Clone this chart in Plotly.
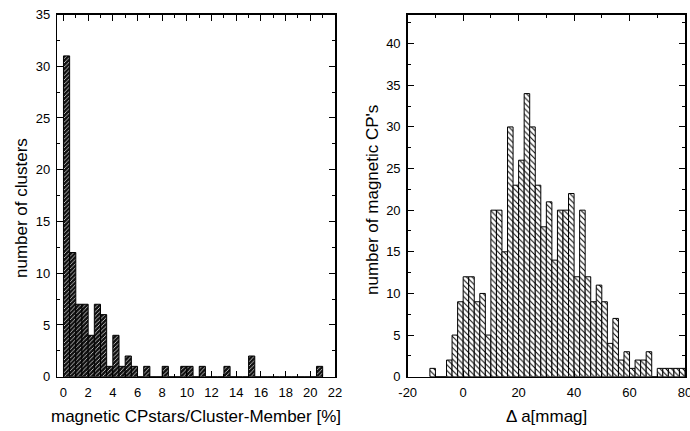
import numpy as np
import plotly.graph_objects as go

# Left histogram: bins of 0.5 % starting at 0
left_bin_start = 0.0
left_bin_width = 0.5
left_counts = [31, 12, 7, 7, 4, 7, 6, 1, 4, 1, 2, 1, 0, 1, 0, 0, 1, 0, 0, 1,
               1, 0, 1, 0, 0, 0, 1, 0, 0, 0, 2, 0, 0, 0, 0, 0, 0, 0, 0, 0,
               0, 1]
left_xticks = [0, 2, 4, 6, 8, 10, 12, 14, 16, 18, 20, 22]

# Right histogram: bins of 2 mmag starting at -12
right_bin_start = -12.0
right_bin_width = 2.0
right_counts = [1, 0, 0, 2, 5, 9, 12, 12, 9, 10, 5, 20, 20, 15, 30, 23, 26, 34,
                30, 23, 18, 21, 14, 20, 20, 22, 12, 20, 12, 9, 11, 9, 4, 7, 2,
                3, 1, 2, 2, 3, 0, 1, 1, 1, 1, 1]
right_xticks = [-20, 0, 20, 40, 60, 80]
right_xticklabels = ["-20", "0", "20", "40", "60", "80"]

left_x = left_bin_start + left_bin_width * (np.arange(len(left_counts)) + 0.5)
right_x = right_bin_start + right_bin_width * (np.arange(len(right_counts)) + 0.5)

FONT = "Liberation Sans, Arial, sans-serif"

fig = go.Figure()
fig.add_trace(go.Bar(
    x=left_x, y=left_counts, width=left_bin_width, xaxis="x", yaxis="y",
    marker=dict(color="#111111",
                line=dict(color="black", width=1),
                pattern=dict(shape="/", fillmode="replace", bgcolor="#111111",
                             fgcolor="#d0d0d0", size=3, solidity=0.28)),
    showlegend=False, hoverinfo="skip"))
fig.add_trace(go.Bar(
    x=right_x, y=right_counts, width=right_bin_width, xaxis="x2", yaxis="y2",
    marker=dict(color="white",
                line=dict(color="black", width=1),
                pattern=dict(shape="\\", fillmode="replace", bgcolor="white",
                             fgcolor="black", size=4, solidity=0.25)),
    showlegend=False, hoverinfo="skip"))

W, H = 690, 431
ydom = [(H - 376.7) / H, (H - 14.5) / H]

axis_common = dict(showline=True, linecolor="black", linewidth=1.5, mirror="ticks",
                   ticks="inside", ticklen=6, tickwidth=1, tickcolor="black",
                   showgrid=False, zeroline=False, automargin=False,
                   ticklabeloverflow="allow",
                   tickfont=dict(family=FONT, size=13, color="black"))

fig.update_layout(
    template="none",
    width=W, height=H,
    margin=dict(l=0, r=0, t=0, b=0, pad=0),
    paper_bgcolor="white", plot_bgcolor="white",
    bargap=0,
    font=dict(family=FONT, color="black"),
    xaxis=dict(domain=[57.3 / W, 335 / W], range=[-0.5, 22],
               tickvals=left_xticks,
               minor=dict(dtick=1, tick0=0, ticks="inside", ticklen=3, tickcolor="black"),
               ticklabelstandoff=3,
               anchor="y", **axis_common),
    yaxis=dict(domain=ydom, range=[0, 35], dtick=5, tick0=0,
               minor=dict(dtick=2.5, tick0=0, ticks="inside", ticklen=3, tickcolor="black"),
               ticklabelstandoff=3,
               anchor="x", **axis_common),
    xaxis2=dict(domain=[407.7 / W, 685 / W], range=[-20, 80],
                tickvals=right_xticks, ticktext=right_xticklabels,
                minor=dict(dtick=10, tick0=0, ticks="inside", ticklen=3, tickcolor="black"),
                ticklabelstandoff=3,
                anchor="y2", **axis_common),
    yaxis2=dict(domain=ydom, range=[0, 43.5], dtick=5, tick0=0,
                minor=dict(dtick=2.5, tick0=0, ticks="inside", ticklen=3, tickcolor="black"),
                ticklabelstandoff=3,
                anchor="x2", **axis_common),
    annotations=[
        dict(text="number of clusters", x=21 / W, y=(H - 208) / H, xref="paper", yref="paper",
             textangle=-90, showarrow=False, font=dict(size=17, family=FONT),
             xanchor="center", yanchor="middle"),
        dict(text="number of magnetic CP's", x=372 / W, y=(H - 200) / H, xref="paper",
             yref="paper", textangle=-90, showarrow=False, font=dict(size=17, family=FONT),
             xanchor="center", yanchor="middle"),
        dict(text="magnetic CPstars/Cluster-Member [%]", x=196 / W, y=(H - 416) / H,
             xref="paper", yref="paper", showarrow=False, font=dict(size=17, family=FONT),
             xanchor="center", yanchor="middle"),
        dict(text="Δ a[mmag]", x=546 / W, y=(H - 416) / H,
             xref="paper", yref="paper", showarrow=False, font=dict(size=17, family=FONT),
             xanchor="center", yanchor="middle"),
    ],
)

fig.write_html(
    "out.html",
    config=dict(displayModeBar=False, staticPlot=True),
    post_script="document.documentElement.style.margin='0';"
                "document.body.style.margin='0';document.body.style.overflow='hidden';",
)
